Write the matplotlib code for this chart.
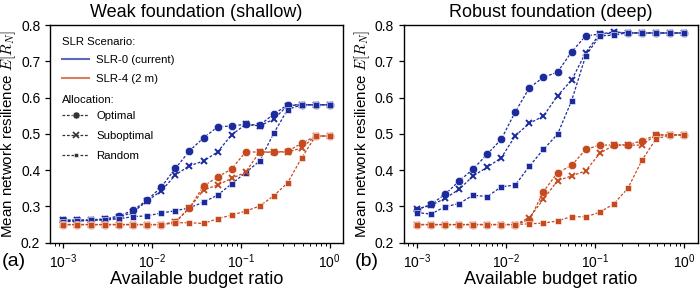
import matplotlib
matplotlib.use("Agg")
import matplotlib.pyplot as plt
from matplotlib.lines import Line2D
from matplotlib.ticker import LogLocator, NullFormatter

plt.rcParams['font.family'] = ['Liberation Sans', 'DejaVu Sans']
plt.rcParams['mathtext.fontset'] = 'custom'
plt.rcParams['mathtext.rm'] = 'Liberation Sans'
plt.rcParams['mathtext.it'] = 'Liberation Sans:italic'
plt.rcParams['mathtext.bf'] = 'Liberation Sans:bold'

budget_ratio = [0.001, 0.00144, 0.00207, 0.00298, 0.00428, 0.00616, 0.00886, 0.01274,
                0.01833, 0.02637, 0.03793, 0.05456, 0.07848, 0.11288, 0.16238, 0.23357,
                0.33598, 0.48329, 0.69519, 1.0]

# Weak foundation (shallow)
weak_slr0_opt = [0.262, 0.262, 0.263, 0.266, 0.274, 0.290, 0.318, 0.354, 0.405, 0.453,
                 0.489, 0.519, 0.522, 0.526, 0.524, 0.554, 0.580, 0.580, 0.580, 0.580]
weak_slr0_sub = [0.262, 0.262, 0.262, 0.264, 0.270, 0.285, 0.316, 0.343, 0.387, 0.412,
                 0.425, 0.450, 0.497, 0.526, 0.522, 0.540, 0.578, 0.580, 0.580, 0.580]
weak_slr0_rand = [0.258, 0.259, 0.262, 0.263, 0.266, 0.272, 0.274, 0.282, 0.288, 0.296,
                  0.312, 0.331, 0.362, 0.393, 0.425, 0.501, 0.567, 0.580, 0.580, 0.580]
weak_slr4_opt = [0.250, 0.250, 0.250, 0.250, 0.250, 0.250, 0.250, 0.250, 0.256, 0.296,
                 0.356, 0.381, 0.403, 0.450, 0.450, 0.449, 0.452, 0.474, 0.494, 0.494]
weak_slr4_sub = [0.250, 0.250, 0.250, 0.250, 0.250, 0.250, 0.250, 0.250, 0.258, 0.296,
                 0.345, 0.359, 0.377, 0.394, 0.450, 0.450, 0.450, 0.461, 0.494, 0.494]
weak_slr4_rand = [0.250, 0.250, 0.250, 0.250, 0.250, 0.250, 0.250, 0.250, 0.255, 0.255,
                  0.253, 0.266, 0.276, 0.287, 0.301, 0.329, 0.365, 0.434, 0.494, 0.494]

# Robust foundation (deep)
rob_slr0_opt = [0.290, 0.306, 0.333, 0.370, 0.403, 0.444, 0.485, 0.561, 0.627, 0.656,
                0.670, 0.726, 0.770, 0.775, 0.778, 0.778, 0.778, 0.778, 0.778, 0.778]
rob_slr0_sub = [0.293, 0.303, 0.322, 0.347, 0.384, 0.408, 0.434, 0.495, 0.529, 0.549,
                0.605, 0.648, 0.724, 0.775, 0.781, 0.778, 0.778, 0.778, 0.778, 0.778]
rob_slr0_rand = [0.283, 0.279, 0.299, 0.308, 0.331, 0.327, 0.354, 0.359, 0.411, 0.457,
                 0.499, 0.591, 0.715, 0.770, 0.772, 0.779, 0.778, 0.778, 0.778, 0.778]
rob_slr4_opt = [0.250, 0.250, 0.250, 0.250, 0.250, 0.250, 0.250, 0.250, 0.262, 0.341,
                0.393, 0.413, 0.457, 0.469, 0.469, 0.470, 0.481, 0.497, 0.497, 0.497]
rob_slr4_sub = [0.250, 0.250, 0.250, 0.250, 0.250, 0.250, 0.250, 0.250, 0.269, 0.320,
                0.371, 0.384, 0.398, 0.446, 0.469, 0.469, 0.469, 0.497, 0.497, 0.497]
rob_slr4_rand = [0.250, 0.250, 0.250, 0.250, 0.250, 0.250, 0.250, 0.250, 0.252, 0.254,
                 0.260, 0.272, 0.271, 0.284, 0.307, 0.350, 0.427, 0.486, 0.497, 0.497]

titles = ["Weak foundation (shallow)", "Robust foundation (deep)"]
panel_labels = ["(a)", "(b)"]
scenario_labels = ["SLR-0 (current)", "SLR-4 (2 m)"]
allocation_labels = ["Optimal", "Suboptimal", "Random"]

BLUE = "#1b2a9c"
RED = "#c64a1e"
colors = [BLUE, RED]
markers = ['o', 'x', 's']
msizes = [6.0, 4.8, 4.2]

data = [
    [[weak_slr0_opt, weak_slr0_sub, weak_slr0_rand], [weak_slr4_opt, weak_slr4_sub, weak_slr4_rand]],
    [[rob_slr0_opt, rob_slr0_sub, rob_slr0_rand], [rob_slr4_opt, rob_slr4_sub, rob_slr4_rand]],
]

fig = plt.figure(figsize=(7, 2.9), dpi=100)
positions = [[50 / 700, 1 - 242.7 / 290, 293 / 700, 217.7 / 290],
             [403.5 / 700, 1 - 242.7 / 290, 294 / 700, 217.7 / 290]]
label_x = [0.003, 0.507]

ls = (0, (2.2, 1.4))
for p in range(2):
    ax = fig.add_axes(positions[p])
    for s in range(2):
        for a in range(3):
            mk = markers[a]
            ax.plot(budget_ratio, data[p][s][a], linestyle=ls, linewidth=0.9, color=colors[s],
                    marker=mk, markersize=msizes[a],
                    markeredgewidth=1.4 if mk == 'x' else 0.4,
                    markeredgecolor=colors[s] if mk == 'x' else 'white',
                    markerfacecolor=colors[s])
    ax.set_xscale('log')
    ax.set_ylim(0.2, 0.8)
    ax.set_yticks([0.2, 0.3, 0.4, 0.5, 0.6, 0.7, 0.8])
    ax.xaxis.set_minor_locator(LogLocator(base=10, subs=range(2, 10), numticks=20))
    ax.xaxis.set_minor_formatter(NullFormatter())
    ax.tick_params(axis='both', which='major', labelsize=10, length=3.5, width=0.9)
    ax.tick_params(axis='x', which='minor', length=2, width=0.7)
    for sp in ax.spines.values():
        sp.set_linewidth(1.0)
    ax.set_title(titles[p], fontsize=13, pad=6)
    ax.set_xlabel("Available budget ratio", fontsize=13, labelpad=0)
    ax.set_ylabel("Mean network resilience $E[R_N]$", fontsize=10.9, labelpad=2,
                  math_fontfamily='cm')
    fig.text(label_x[p], 1 - 262 / 290, panel_labels[p], fontsize=14, va='center', ha='left')

    if p == 0:
        fs = 8.2
        ax.text(0.041, 0.922, "SLR Scenario:", transform=ax.transAxes, fontsize=fs, va='center')
        h1 = [Line2D([], [], color=colors[i], lw=1.5, alpha=0.7) for i in range(2)]
        leg1 = ax.legend(h1, scenario_labels, loc='upper left', bbox_to_anchor=(0.041, 0.862),
                         frameon=False, fontsize=fs, borderpad=0, borderaxespad=0,
                         handlelength=2.4, handletextpad=0.6, labelspacing=0.77)
        ax.add_artist(leg1)
        ax.text(0.041, 0.656, "Allocation:", transform=ax.transAxes, fontsize=fs, va='center')
        h2 = [Line2D([], [], color='#333333', lw=0.9, linestyle=ls, marker=markers[i],
                     markersize=msizes[i] * 0.85, markeredgewidth=1.2 if markers[i] == 'x' else 0.4,
                     markerfacecolor='#333333',
                     markeredgecolor='#333333' if markers[i] == 'x' else 'white')
              for i in range(3)]
        ax.legend(h2, allocation_labels, loc='upper left', bbox_to_anchor=(0.041, 0.603),
                  frameon=False, fontsize=fs, borderpad=0, borderaxespad=0,
                  handlelength=2.4, handletextpad=0.6, labelspacing=0.84)

fig.savefig("out.png", dpi=100)
